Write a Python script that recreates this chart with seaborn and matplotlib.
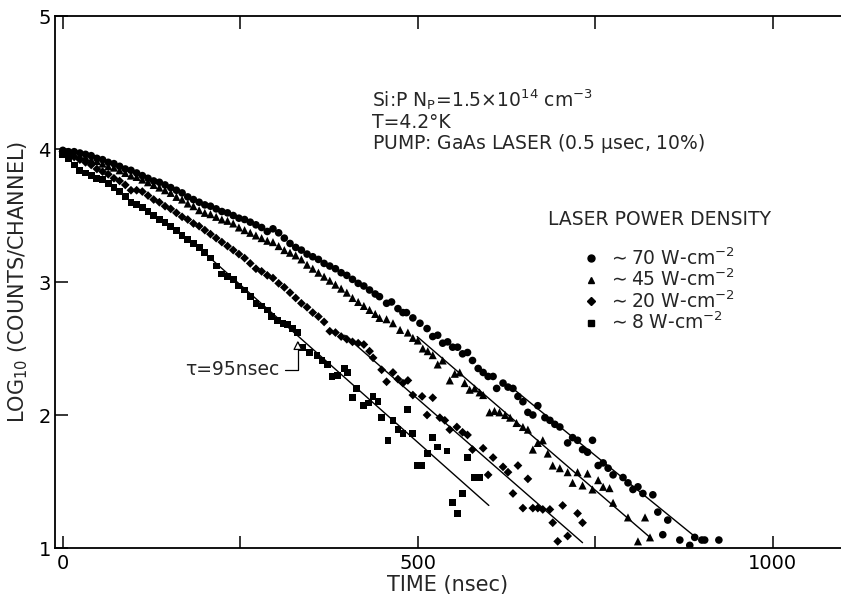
import matplotlib
matplotlib.use('Agg')
import matplotlib.pyplot as plt
import seaborn as sns
import pandas as pd
from matplotlib.lines import Line2D

# (time in nsec, log10 counts/channel), one list per pump power
p70 = [(0, 3.99), (8, 3.98), (16, 3.98), (24, 3.97), (32, 3.96), (40, 3.95), (48, 3.93), (56, 3.92),
       (64, 3.90), (72, 3.89), (80, 3.87), (88, 3.85), (96, 3.84), (104, 3.82), (112, 3.80), (120, 3.78),
       (128, 3.76), (136, 3.75), (144, 3.73), (152, 3.71), (160, 3.69), (168, 3.67), (176, 3.64), (184, 3.62),
       (192, 3.60), (200, 3.58), (208, 3.57), (216, 3.55), (224, 3.53), (232, 3.52), (240, 3.50), (248, 3.48),
       (256, 3.47), (264, 3.45), (272, 3.43), (280, 3.41), (288, 3.38), (296, 3.40), (304, 3.37), (312, 3.33),
       (320, 3.29), (328, 3.26), (336, 3.24), (344, 3.21), (352, 3.19), (360, 3.17), (368, 3.14), (376, 3.12),
       (384, 3.10), (392, 3.07), (400, 3.05), (408, 3.02), (416, 2.99), (424, 2.97), (432, 2.94), (440, 2.91),
       (446, 2.89), (456, 2.84), (463, 2.85), (472, 2.80), (479, 2.77), (484, 2.77), (493, 2.73), (503, 2.69),
       (513, 2.65), (521, 2.59), (528, 2.60), (535, 2.54), (542, 2.55), (549, 2.51), (556, 2.51), (563, 2.46),
       (570, 2.47), (577, 2.41), (585, 2.35), (592, 2.32), (599, 2.29), (606, 2.29), (611, 2.20), (620, 2.24),
       (627, 2.21), (634, 2.20), (641, 2.14), (648, 2.10), (655, 2.02), (662, 2.00), (669, 2.07), (679, 1.98),
       (686, 1.96), (693, 1.93), (700, 1.91), (711, 1.79), (718, 1.83), (725, 1.81), (732, 1.74), (739, 1.72),
       (746, 1.81), (754, 1.62), (761, 1.64), (768, 1.60), (775, 1.55), (789, 1.53), (796, 1.49), (803, 1.44),
       (810, 1.46), (817, 1.41), (831, 1.40), (838, 1.27), (845, 1.10), (852, 1.21), (869, 1.06), (883, 1.02),
       (890, 1.08), (900, 1.06), (904, 1.06), (924, 1.06)]

p45 = [(0, 3.98), (8, 3.97), (16, 3.96), (24, 3.95), (32, 3.94), (40, 3.92), (48, 3.91), (56, 3.89),
       (64, 3.87), (72, 3.86), (80, 3.84), (88, 3.82), (96, 3.80), (104, 3.79), (112, 3.77), (120, 3.75),
       (128, 3.73), (136, 3.71), (144, 3.69), (152, 3.67), (160, 3.64), (168, 3.62), (176, 3.59), (184, 3.57),
       (192, 3.54), (200, 3.52), (208, 3.51), (216, 3.49), (224, 3.47), (232, 3.46), (240, 3.44), (248, 3.41),
       (256, 3.39), (264, 3.37), (272, 3.35), (280, 3.33), (288, 3.31), (296, 3.30), (304, 3.27), (312, 3.24),
       (320, 3.22), (328, 3.20), (336, 3.17), (344, 3.13), (352, 3.10), (360, 3.07), (368, 3.04), (376, 3.01),
       (384, 2.98), (392, 2.95), (400, 2.92), (408, 2.88), (416, 2.85), (424, 2.82), (432, 2.79), (440, 2.76),
       (446, 2.73), (456, 2.72), (465, 2.69), (475, 2.64), (486, 2.62), (493, 2.58), (500, 2.56), (507, 2.50),
       (514, 2.48), (521, 2.45), (528, 2.38), (535, 2.41), (545, 2.26), (552, 2.31), (559, 2.32), (566, 2.24),
       (573, 2.19), (580, 2.20), (587, 2.17), (592, 2.15), (601, 2.02), (608, 2.03), (615, 2.02), (623, 2.00),
       (630, 1.98), (639, 1.94), (648, 1.91), (655, 1.89), (662, 1.74), (669, 1.79), (676, 1.81), (683, 1.71),
       (690, 1.62), (700, 1.60), (711, 1.57), (718, 1.49), (725, 1.57), (732, 1.47), (739, 1.56), (746, 1.44),
       (754, 1.51), (761, 1.46), (770, 1.45), (775, 1.34), (796, 1.23), (810, 1.05), (820, 1.23), (827, 1.08)]

p20 = [(0, 3.98), (8, 3.96), (16, 3.94), (24, 3.92), (32, 3.90), (40, 3.88), (48, 3.85), (56, 3.83),
       (64, 3.81), (72, 3.78), (80, 3.76), (88, 3.73), (96, 3.69), (104, 3.69), (112, 3.68), (120, 3.65),
       (128, 3.62), (136, 3.60), (144, 3.57), (152, 3.55), (160, 3.52), (168, 3.49), (176, 3.47), (184, 3.44),
       (192, 3.42), (200, 3.39), (208, 3.36), (216, 3.33), (224, 3.30), (232, 3.27), (240, 3.24), (248, 3.21),
       (256, 3.18), (264, 3.14), (272, 3.10), (280, 3.08), (288, 3.05), (296, 3.03), (304, 2.99), (312, 2.96),
       (320, 2.92), (328, 2.88), (336, 2.84), (344, 2.81), (352, 2.77), (360, 2.74), (368, 2.70), (376, 2.63),
       (384, 2.62), (392, 2.59), (400, 2.57), (408, 2.55), (416, 2.54), (424, 2.53), (432, 2.48), (437, 2.43),
       (449, 2.34), (456, 2.25), (465, 2.32), (472, 2.27), (479, 2.24), (486, 2.26), (493, 2.15), (506, 2.14),
       (513, 2.00), (521, 2.13), (531, 1.98), (538, 1.96), (545, 1.89), (555, 1.91), (563, 1.87), (570, 1.85),
       (577, 1.74), (592, 1.75), (599, 1.55), (606, 1.68), (620, 1.61), (627, 1.57), (634, 1.41), (641, 1.62),
       (648, 1.30), (655, 1.52), (662, 1.30), (669, 1.30), (676, 1.29), (686, 1.29), (690, 1.19), (697, 1.05),
       (704, 1.32), (711, 1.09), (725, 1.26), (732, 1.19)]

p8 = [(0, 3.96), (8, 3.93), (16, 3.88), (24, 3.84), (32, 3.82), (40, 3.80), (48, 3.78), (56, 3.77),
      (64, 3.74), (72, 3.71), (80, 3.68), (88, 3.64), (96, 3.60), (104, 3.58), (112, 3.56), (120, 3.53),
      (128, 3.50), (136, 3.47), (144, 3.45), (152, 3.42), (160, 3.39), (168, 3.35), (176, 3.32), (184, 3.29),
      (192, 3.26), (200, 3.22), (208, 3.18), (216, 3.12), (224, 3.06), (232, 3.04), (240, 3.02), (248, 2.97),
      (256, 2.94), (264, 2.89), (272, 2.84), (280, 2.82), (288, 2.79), (294, 2.74), (302, 2.71), (310, 2.69),
      (316, 2.68), (324, 2.65), (330, 2.62), (338, 2.51), (348, 2.47), (358, 2.45), (365, 2.41), (373, 2.38),
      (379, 2.29), (387, 2.30), (397, 2.35), (401, 2.32), (408, 2.13), (414, 2.20), (423, 2.07), (430, 2.09),
      (437, 2.14), (444, 2.10), (449, 1.98), (458, 1.81), (465, 1.96), (472, 1.89), (479, 1.86), (486, 2.04),
      (493, 1.86), (500, 1.62), (506, 1.62), (514, 1.71), (521, 1.83), (528, 1.76), (541, 1.73), (549, 1.34),
      (556, 1.26), (563, 1.41), (570, 1.68), (580, 1.53), (587, 1.53)]

powers = ['~70', '~45', '~20', '~8']
marker_shapes = ['o', '^', 'D', 's']
marker_sizes = [30, 34, 20, 24]

# straight-line fits drawn through the tails (start/end)
fit_t0 = [636, 499, 397, 197]
fit_t1 = [887, 827, 732, 600]
fit_y0 = [2.19, 2.59, 2.60, 3.23]
fit_y1 = [1.10, 1.08, 1.04, 1.32]

rows = []
for pw, pts in zip(powers, [p70, p45, p20, p8]):
    for t, y in pts:
        rows.append((t, y, pw))
df = pd.DataFrame(rows, columns=['time', 'logc', 'power'])

sns.set_style('ticks')
plt.rcParams['font.family'] = ['DejaVu Sans']
plt.rcParams['mathtext.default'] = 'regular'

fig = plt.figure(figsize=(8.41, 5.98), dpi=100)
ax = fig.add_axes([0.0654, 0.0836, 0.9346, 0.8896])

sns.scatterplot(data=df, x='time', y='logc', style='power', size='power',
                markers=dict(zip(powers, marker_shapes)),
                sizes=dict(zip(powers, marker_sizes)),
                color='black', linewidth=0, legend=False, ax=ax)

for t0, t1, y0, y1 in zip(fit_t0, fit_t1, fit_y0, fit_y1):
    ax.plot([t0, t1], [y0, y1], color='black', lw=1.0)

ax.set_xlim(-11, 1096)
ax.set_ylim(1, 5)
ax.set_xticks([0, 500, 1000])
ax.set_xticks([250, 750], minor=True)
ax.set_yticks([1, 2, 3, 4, 5])
ax.tick_params(which='both', direction='in', length=9, width=1.1, top=True,
               right=False, labelsize=14, colors='black')
ax.tick_params(axis='y', pad=3)
ax.tick_params(axis='x', pad=4)
ax.spines['right'].set_visible(False)
for s in ['left', 'top', 'bottom']:
    ax.spines[s].set_linewidth(1.3)
    ax.spines[s].set_color('black')

ax.set_xlabel('TIME (nsec)', fontsize=15, labelpad=2)
ax.set_ylabel('LOG$_{10}$ (COUNTS/CHANNEL)', fontsize=15, labelpad=6)

fs = 13.5
ax.text(435, 4.37, r'Si:P N$_P$=1.5$\times$10$^{14}$ cm$^{-3}$', fontsize=fs, va='center')
ax.text(435, 4.20, 'T=4.2°K', fontsize=fs, va='center')
ax.text(435, 4.04, r'PUMP: GaAs LASER (0.5 $\mu$sec, 10%)', fontsize=fs, va='center')
ax.text(683, 3.47, 'LASER POWER DENSITY', fontsize=fs, va='center')

handles = [Line2D([], [], ls='none', marker=m, color='black', markersize=5 if m != 'D' else 4)
           for m in marker_shapes]
labels = [r'$\sim$' + p[1:] + ' W-cm$^{-2}$' for p in powers]
ax.legend(handles, labels, loc='upper left', bbox_to_anchor=(0.672, 0.565),
          frameon=False, fontsize=fs, handlelength=0.8, handletextpad=0.5,
          borderpad=0, borderaxespad=0, labelspacing=0.0)

ax.annotate('τ=95nsec', xy=(331, 2.56), xytext=(305, 2.34), fontsize=fs,
            ha='right', va='center',
            arrowprops=dict(arrowstyle='-|>', fc='white', ec='black', lw=0.9,
                            shrinkA=2, shrinkB=0,
                            connectionstyle='angle,angleA=0,angleB=90,rad=0'))

fig.savefig('out.png', dpi=100)
